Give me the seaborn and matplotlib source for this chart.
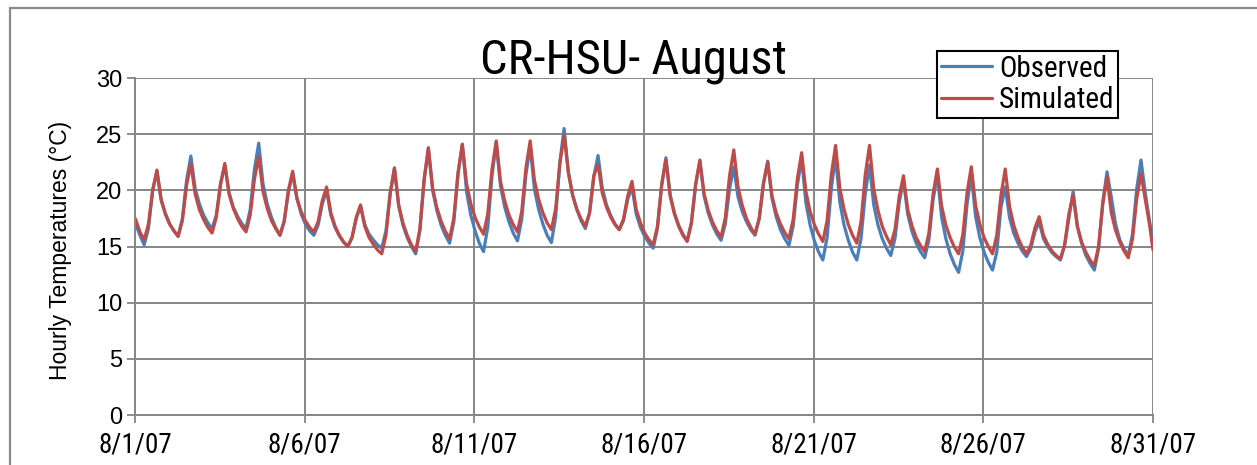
import numpy as np
import pandas as pd
import matplotlib
matplotlib.use('Agg')
import matplotlib.pyplot as plt
import matplotlib.patches as patches
import matplotlib.font_manager as fm
import seaborn as sns

# Temperaturas horarias (cada 3 h, empezando a las 0:30)
hours = [0.5, 3.5, 6.5, 9.5, 12.5, 15.5, 18.5, 21.5]

observed = [
    [17.0, 16.0, 15.15, 16.6, 20.0, 21.7, 19.1, 17.9],
    [17.0, 16.4, 15.9, 17.5, 20.9, 23.05, 20.2, 18.8],
    [17.8, 17.1, 16.6, 17.8, 20.6, 22.25, 19.8, 18.5],
    [17.7, 17.05, 16.6, 18.3, 21.9, 24.2, 20.6, 18.8],
    [17.6, 16.7, 16.0, 17.2, 19.85, 21.5, 19.3, 17.9],
    [17.0, 16.4, 16.0, 16.9, 18.8, 20.0, 17.8, 16.7],
    [15.95, 15.4, 15.0, 15.8, 17.5, 18.6, 16.95, 16.1],
    [15.6, 15.15, 14.85, 16.4, 19.8, 21.95, 18.6, 16.9],
    [15.8, 15.0, 14.35, 16.4, 20.9, 23.7, 20.0, 18.2],
    [16.9, 16.0, 15.3, 17.2, 21.5, 24.1, 19.9, 17.8],
    [16.4, 15.3, 14.55, 16.7, 21.3, 24.2, 20.4, 18.5],
    [17.2, 16.2, 15.5, 17.4, 21.4, 23.9, 20.1, 18.3],
    [17.0, 16.0, 15.35, 17.6, 22.5, 25.5, 21.6, 19.6],
    [18.3, 17.3, 16.6, 18.0, 21.2, 23.1, 20.2, 18.7],
    [17.75, 17.0, 16.5, 17.3, 19.2, 20.3, 17.9, 16.7],
    [15.9, 15.3, 14.85, 16.6, 20.5, 22.9, 19.6, 18.0],
    [16.9, 16.1, 15.5, 17.1, 20.5, 22.6, 19.5, 17.95],
    [16.9, 16.1, 15.55, 17.0, 20.1, 22.1, 19.4, 18.1],
    [17.2, 16.5, 16.0, 17.5, 20.6, 22.6, 19.3, 17.65],
    [16.5, 15.7, 15.1, 16.8, 20.5, 22.85, 18.9, 16.9],
    [15.5, 14.5, 13.8, 15.8, 20.2, 23.0, 18.95, 16.9],
    [15.55, 14.5, 13.8, 15.7, 19.7, 22.25, 18.7, 16.9],
    [15.7, 14.85, 14.2, 15.7, 18.9, 20.9, 17.9, 16.35],
    [15.3, 14.55, 14.0, 15.6, 19.2, 21.4, 17.6, 15.7],
    [14.35, 13.4, 12.7, 14.6, 18.8, 21.4, 17.7, 15.8],
    [14.5, 13.6, 12.9, 14.5, 18.5, 20.3, 17.6, 16.2],
    [15.3, 14.6, 14.1, 14.8, 16.3, 17.2, 15.7, 15.0],
    [14.45, 14.1, 13.8, 15.1, 17.5, 19.9, 16.8, 15.3],
    [14.2, 13.5, 12.9, 14.8, 19.0, 21.65, 19.4, 17.0],
    [15.6, 14.8, 14.2, 16.1, 20.15, 22.7, 19.8, 17.3],
]
observed_start, observed_end = 17.1, 15.3

simulated = [
    [17.4, 16.3, 15.6, 17.0, 20.0, 21.8, 19.2, 17.9],
    [17.0, 16.4, 15.9, 17.3, 20.45, 22.4, 19.7, 18.3],
    [17.4, 16.7, 16.2, 17.6, 20.5, 22.4, 19.7, 18.4],
    [17.5, 16.8, 16.3, 17.8, 21.0, 23.0, 19.9, 18.4],
    [17.3, 16.6, 16.0, 17.25, 20.0, 21.7, 19.3, 18.1],
    [17.3, 16.7, 16.3, 17.2, 19.1, 20.3, 18.0, 16.8],
    [16.0, 15.4, 15.0, 15.8, 17.6, 18.7, 16.8, 15.8],
    [15.2, 14.7, 14.35, 16.0, 19.7, 22.0, 18.7, 17.1],
    [16.0, 15.15, 14.55, 16.6, 21.0, 23.8, 20.2, 18.45],
    [17.25, 16.35, 15.7, 17.55, 21.6, 24.1, 20.6, 18.8],
    [17.6, 16.75, 16.1, 17.9, 21.9, 24.4, 20.8, 19.05],
    [17.8, 16.95, 16.3, 18.1, 22.0, 24.4, 20.9, 19.2],
    [18.0, 17.1, 16.5, 18.35, 22.4, 24.9, 21.6, 19.55],
    [18.3, 17.45, 16.8, 18.0, 21.3, 22.3, 19.75, 18.5],
    [17.6, 16.95, 16.5, 17.45, 19.5, 20.8, 18.3, 17.1],
    [16.2, 15.6, 15.15, 16.8, 20.45, 22.7, 19.5, 17.9],
    [16.8, 16.0, 15.45, 17.05, 20.5, 22.7, 19.7, 18.2],
    [17.15, 16.4, 15.85, 17.55, 21.3, 23.6, 20.3, 18.65],
    [17.5, 16.7, 16.1, 17.5, 20.6, 22.5, 19.5, 18.0],
    [17.0, 16.25, 15.7, 17.4, 21.05, 23.35, 19.9, 18.1],
    [16.95, 16.1, 15.45, 17.3, 21.4, 24.0, 20.2, 18.3],
    [16.95, 16.0, 15.3, 17.2, 21.4, 24.0, 20.1, 18.2],
    [16.8, 15.9, 15.15, 16.5, 19.45, 21.3, 18.3, 16.85],
    [15.8, 15.1, 14.55, 16.2, 19.7, 21.9, 18.6, 16.9],
    [15.8, 14.95, 14.35, 16.05, 19.8, 22.1, 18.7, 17.0],
    [15.8, 15.0, 14.35, 16.0, 19.6, 21.9, 18.6, 16.9],
    [15.8, 14.95, 14.35, 15.1, 16.65, 17.65, 16.0, 15.2],
    [14.6, 14.2, 13.9, 15.15, 17.9, 19.6, 16.8, 15.4],
    [14.5, 13.8, 13.3, 15.0, 18.8, 21.2, 18.0, 16.45],
    [15.4, 14.6, 14.0, 15.65, 19.25, 21.5, 19.2, 17.0],
]
simulated_start, simulated_end = 17.5, 14.7

series_names = ['Observed', 'Simulated']
series_colors = ['#4A7EBB', '#BE4B48']
tick_days = [0, 5, 10, 15, 20, 25, 30]
tick_labels = ['8/1/07', '8/6/07', '8/11/07', '8/16/07', '8/21/07', '8/26/07', '8/31/07']
n_days = len(observed)


def build(name, rows, start, end):
    t = [0.0] + [d + h / 24 for d in range(len(rows)) for h in hours] + [float(len(rows))]
    v = [start] + [x for r in rows for x in r] + [end]
    return pd.DataFrame({'day': t, 'temp': v, 'serie': name})


df = pd.concat([build('Observed', observed, observed_start, observed_end),
                build('Simulated', simulated, simulated_start, simulated_end)],
               ignore_index=True)

sns.set_style('white')
installed = {f.name for f in fm.fontManager.ttflist}
narrow_name = next((n for n in ['Liberation Sans Narrow', 'DejaVu Sans Condensed', 'Roboto Condensed']
                    if n in installed), None)
if narrow_name:
    narrow = [narrow_name, 'DejaVu Sans']
    s_title, s_tick, s_leg = 35, 19.5, 21
else:
    narrow = ['Liberation Sans', 'DejaVu Sans']
    s_title, s_tick, s_leg = 29, 18, 18
regular = ['Liberation Sans', 'DejaVu Sans']
grey = '#868686'

fig = plt.figure(figsize=(12.57, 4.65), dpi=100)
ax = fig.add_axes([135 / 1257, 1 - 415 / 465, 1018 / 1257, 337 / 465])

sns.lineplot(data=df, x='day', y='temp', hue='serie', hue_order=series_names,
             palette=series_colors, linewidth=2.3, estimator=None, sort=False, ax=ax)

ax.set_xlim(0, n_days)
ax.set_ylim(0, 30)
ax.set_xticks(tick_days)
ax.set_xticklabels(tick_labels, fontsize=s_tick, family=narrow, color='black')
ax.set_yticks(range(0, 31, 5))
ax.set_yticklabels([str(v) for v in range(0, 31, 5)], fontsize=17, family=regular, color='black')
ax.grid(True, color=grey, linewidth=1.4)
ax.set_axisbelow(True)
for s in ['top', 'right']:
    ax.spines[s].set_visible(False)
for s in ['left', 'bottom']:
    ax.spines[s].set_color(grey)
    ax.spines[s].set_linewidth(1.4)
ax.tick_params(axis='x', length=6, width=1.3, color=grey, pad=6, direction='out', bottom=True)
ax.tick_params(axis='y', length=6, width=1.3, color=grey, pad=3, direction='out', left=True)
ax.set_xlabel('')
ax.set_ylabel('')

fig.text(61 / 1257, 1 - 250 / 465, 'Hourly Temperatures (°C)', rotation=90,
         ha='center', va='center', fontsize=16.5, family=regular, color='black')
fig.text(633 / 1257, 1 - 74 / 465, 'CR-HSU- August', ha='center', va='baseline',
         fontsize=s_title, family=narrow, color='black')

leg = ax.legend(loc='upper left', bbox_to_anchor=(0.788, 1.08), borderaxespad=0,
                frameon=True, fancybox=False, prop={'family': narrow, 'size': s_leg},
                handlelength=1.75, handletextpad=0.25, labelspacing=0.12, borderpad=0.12)
leg.get_frame().set_edgecolor('black')
leg.get_frame().set_linewidth(1.5)
leg.get_frame().set_alpha(1)
for txt in leg.get_texts():
    txt.set_color('black')
for line in leg.get_lines():
    line.set_linewidth(2.3)

# Borde gris del area del grafico
fig.patches.append(patches.Rectangle((10 / 1257, -0.1), 1.2, 1.1 - 8.5 / 465,
                                     transform=fig.transFigure, fill=False,
                                     edgecolor='#8a8a8a', linewidth=1.6, clip_on=False))

fig.savefig('out.png', dpi=100)
